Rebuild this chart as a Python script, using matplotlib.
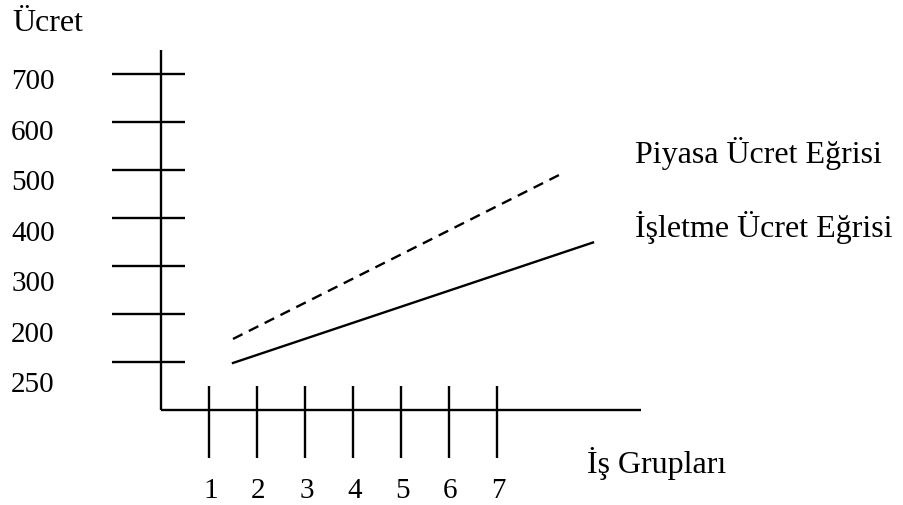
import matplotlib
matplotlib.use("Agg")
import matplotlib.pyplot as plt

plt.rcParams["font.family"] = ["Liberation Serif", "DejaVu Serif"]

# y ticks (the bottom one is labelled 250 in the original drawing)
y_ticks = [700, 600, 500, 400, 300, 200, 100]
y_labels = ["700", "600", "500", "400", "300", "200", "250"]
groups = [1, 2, 3, 4, 5, 6, 7]

# wage curves (start / end points)
piyasa_x = [1.5, 8.4]
piyasa_y = [148, 495]
isletme_x = [1.5, 9.0]
isletme_y = [98, 349]

fig = plt.figure(figsize=(9.04, 5.06), dpi=100)
ax = fig.add_axes([0, 0, 1, 1])
ax.set_xlim(-3.354, 15.479)
ax.set_ylim(-197.9, 856.25)
ax.axis("off")

lw = 1.7
k = "black"
# axes lines
ax.plot([0, 0], [0, 750], color=k, lw=lw, solid_capstyle="butt")
ax.plot([0, 10], [0, 0], color=k, lw=lw, solid_capstyle="butt")

# y ticks + labels
for t, lab in zip(y_ticks, y_labels):
    ax.plot([-1.02, 0.5], [t, t], color=k, lw=lw, solid_capstyle="butt")
    ax.text(-3.12, 1.052 * t - 65.6, lab, fontsize=21, va="baseline", ha="left")

# x ticks + labels
for g in groups:
    ax.plot([g, g], [50, -100], color=k, lw=lw, solid_capstyle="butt")
    ax.text(g + 0.03, -181, str(g), fontsize=21, va="baseline", ha="center")

ax.plot(piyasa_x, piyasa_y, color=k, lw=lw, ls=(0, (4.5, 3)))
ax.plot(isletme_x, isletme_y, color=k, lw=lw)

fs = 23
ax.text(-3.1, 791.7, "Ücret", fontsize=fs, va="baseline")
ax.text(9.88, 516, "Piyasa Ücret Eğrisi", fontsize=fs, va="baseline")
ax.text(9.88, 362.5, "İşletme Ücret Eğrisi", fontsize=fs, va="baseline")
ax.text(8.87, -129, "İş Grupları", fontsize=fs, va="baseline")

fig.savefig("out.png", dpi=100)
